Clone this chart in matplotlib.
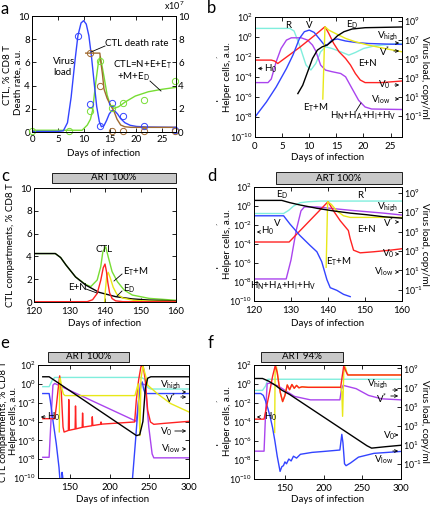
import numpy as np
import matplotlib
matplotlib.use('Agg')
import matplotlib.pyplot as plt
from matplotlib.patches import Rectangle, FancyArrowPatch
from matplotlib.lines import Line2D
from matplotlib.ticker import NullLocator
import matplotlib.transforms as mtransforms

plt.rcParams['font.family'] = ['Lato', 'DejaVu Sans']
plt.rcParams['mathtext.fontset'] = 'custom'
plt.rcParams['mathtext.rm'] = 'Lato'
plt.rcParams['mathtext.it'] = 'Lato:italic'
plt.rcParams['mathtext.bf'] = 'Lato:bold'
plt.rcParams['font.size'] = 7
plt.rcParams['xtick.direction'] = 'in'
plt.rcParams['ytick.direction'] = 'in'
plt.rcParams['xtick.major.size'] = 3
plt.rcParams['ytick.major.size'] = 3
plt.rcParams['xtick.major.width'] = 0.6
plt.rcParams['ytick.major.width'] = 0.6
plt.rcParams['axes.linewidth'] = 0.7
plt.rcParams['xtick.major.pad'] = 2.5
plt.rcParams['ytick.major.pad'] = 1.5

# ---------------- colours ----------------
BLUE = '#3344ff'
GREEN = '#77dd33'
RED = '#ff2222'
YEL = '#e8e818'
CYAN = '#80eedd'
MAG = '#aa44ee'
BROWN = '#a06a30'
BLACK = 'black'

# ---------------- data: panel a ----------------
a_blue_t = [0, 5, 6, 6.8, 7.5, 8.2, 8.8, 9.4, 9.9, 10.4, 10.9, 11.4, 11.9, 12.4, 12.9, 13.3,
            13.8, 14.3, 14.8, 15.3, 15.8, 16.4, 17.0, 17.8, 18.8, 20, 22, 27.6]
a_blue = [0.05, 0.05, 0.1, 0.8, 3.0, 6.0, 8.3, 9.4, 9.6, 9.3, 8.3, 6.5, 4.3, 2.2, 0.9, 0.45,
          0.55, 1.0, 1.55, 1.85, 1.85, 1.55, 1.15, 0.8, 0.58, 0.48, 0.43, 0.4]
a_green_t = [0, 9.6, 10.6, 11.2, 11.6, 12.2, 12.7, 13.1, 13.8, 14.4, 15.0, 15.7, 16.6, 17.9,
             19.8, 22.3, 24.9, 27.6]
a_green = [0.15, 0.15, 0.6, 1.1, 1.84, 4.2, 5.9, 6.5, 4.77, 3.19, 2.33, 2.04, 2.18, 2.6,
           3.1, 3.47, 3.68, 3.85]
a_brown_t = [10.3, 13.0, 13.2, 13.5, 13.8, 14.4, 15.0, 15.7, 16.3, 17.0, 17.8, 19.0, 27.6]
a_brown = [6.8, 6.8, 6.0, 5.0, 3.7, 2.9, 2.35, 1.8, 1.1, 0.6, 0.45, 0.4, 0.4]
a_vir_obs_t = [8.9, 11.1, 13.1, 15.4, 17.4, 21.4, 27.5]
a_vir_obs = [8.25, 2.45, 0.5, 2.5, 1.35, 0.55, 0.15]
a_ctl_obs_t = [0, 7, 11.1, 13.1, 15.4, 17.4, 21.4, 27.5]
a_ctl_obs = [0.05, 0.05, 1.8, 6.1, 2.05, 2.5, 2.8, 4.4]
a_dr_obs_t = [11.1, 13.1, 15.4, 17.4, 21.4, 27.5]
a_dr_obs = [6.8, 4.0, 0.05, 0.05, 0.05, 0.05]

# ---------------- data: panel b (log10 values) ----------------
b_cyan_t = [0, 6.4, 7.2, 8.2, 9.4, 10.3, 11.2, 12.1, 13.0, 14.2, 15.8, 17.3, 18.5, 20.0, 22.1, 24.5, 27.1]
b_cyan = [0.86, 0.86, 0.6, -0.81, -2.8, -3.3, -2.65, -1.48, -0.98, -1.15, -1.48, -1.81, -1.55,
          -1.15, -0.88, -0.75, -0.65]
b_blue_t = [0, 2.1, 3.9, 5.8, 7.0, 8.2, 9.1, 10.0, 10.9, 11.8, 12.7, 13.3, 14.2, 15.2, 16.7,
            18.5, 20.9, 24.5, 27.1]
b_blue = [-8.0, -6.5, -5.0, -3.15, -1.8, -0.14, 0.53, 0.69, 0.46, -0.14, -0.74, -0.8, -0.3,
          -0.2, -0.4, -0.54, -0.65, -0.71, -0.74]
b_red_t = [0, 3.0, 3.6, 4.2, 5.2, 8.2, 11.2, 12.9, 13.6, 14.5, 15.5, 16.7, 17.6, 18.5, 19.4,
           20.3, 23.3, 27.1]
b_red = [-2.31, -2.31, -2.4, -2.65, -2.25, -1.05, 0.25, 1.03, 0.36, -0.64, -1.48, -2.15, -2.8,
         -3.65, -4.3, -4.56, -4.56, -4.4]
b_mag_t = [0, 2.4, 3.0, 3.9, 4.8, 5.8, 6.7, 8.5, 9.7, 10.6, 11.2, 12.1, 13.0, 14.2, 15.8, 16.7,
           17.9, 19.1, 20.3, 21.5, 27.1]
b_mag = [-4.56, -4.56, -4.2, -2.48, -1.15, -0.31, -0.08, -0.08, -0.31, -0.81, -1.4, -2.81,
         -3.31, -3.47, -3.65, -3.98, -5.16, -6.33, -7.0, -7.2, -7.25]
b_black_t = [7.9, 8.8, 9.7, 10.6, 11.5, 12.4, 13.3, 14.2, 15.2, 16.4, 17.9, 20.3, 27.1]
b_black = [-5.66, -4.82, -3.49, -2.15, -1.31, -0.98, -0.81, -0.41, 0.12, 0.53, 0.8, 0.93, 1.0]
b_yel_t = [12.5, 12.9, 13.6, 14.8, 16.7, 18.5, 20.9, 24.5, 27.1]
b_yel = [-6.2, 1.03, 0.69, 0.36, -0.14, -0.48, -0.81, -1.21, -1.48]

# ---------------- data: panel c ----------------
c_black_t = [120, 126, 127.5, 129, 131.7, 134.5, 138.3, 143, 147.7, 152.4, 160]
c_black = [4.25, 4.25, 3.9, 3.25, 2.2, 1.5, 0.85, 0.47, 0.27, 0.17, 0.1]
c_green_t = [120, 126, 127.5, 129, 131.7, 134.5, 136, 137.8, 138.8, 139.4, 140.2, 140.9, 142,
             143.5, 145.4, 147.7, 152.4, 160]
c_green = [4.25, 4.25, 3.9, 3.25, 2.2, 1.55, 1.35, 1.93, 3.1, 4.41, 4.85, 3.97, 2.66, 1.78,
           1.05, 0.61, 0.32, 0.15]
c_red_t = [120, 135, 136.5, 137.8, 138.8, 139.5, 140, 140.4, 140.8, 141.3, 142, 143, 145, 160]
c_red = [0.02, 0.03, 0.2, 0.75, 1.9, 3.0, 3.33, 2.7, 1.7, 0.8, 0.3, 0.1, 0.03, 0.02]
c_yel_t = [139.9, 140.1, 140.5, 140.9, 141.5, 142.3, 143.3, 145, 148, 152, 160]
c_yel = [0.0, 1.0, 2.3, 2.6, 2.1, 1.3, 0.7, 0.35, 0.15, 0.08, 0.05]

# ---------------- data: panel d (log10) ----------------
d_black_t = [120, 127.5, 129.7, 132.4, 137, 141.5, 146, 150.5, 155, 160]
d_black = [0.59, 0.59, 0.35, 0.11, -0.24, -0.52, -0.75, -0.92, -1.13, -1.28]
d_cyan_t = [120, 128, 129.4, 130.7, 132.5, 134.7, 138, 160]
d_cyan = [-0.79, -0.79, -0.45, 0.0, 0.35, 0.45, 0.52, 0.52]
d_blue_t = [120, 128, 129.7, 132.4, 135.1, 137, 138.3, 139.7, 140.6, 142.4, 144.2, 146]
d_blue = [-1.03, -1.03, -1.89, -3.1, -4.13, -4.82, -5.86, -7.75, -8.6, -8.88, -9.3, -9.54]
d_red_t = [120, 129.5, 140, 141.5, 143.3, 145.5, 146, 146.9, 148.7, 152.3, 156.8, 160]
d_red = [-3.79, -3.79, 0.45, -0.52, -1.55, -2.58, -3.44, -4.65, -4.93, -4.82, -4.65, -4.5]
d_mag_t = [120, 128.7, 130, 131.4, 132.7, 133.6, 137, 146, 155, 160]
d_mag = [-7.68, -7.68, -5.68, -2.58, -0.51, -0.1, -0.1, -0.45, -0.75, -0.95]
d_yel_t = [139.5, 139.9, 140.9, 142.4, 144.2, 146, 151.4, 160]
d_yel = [-6.45, 0.45, 0.17, -0.52, -1.03, -1.2, -1.2, -1.2]

# ---------------- data: panel e (log10) ----------------
e_black_t = [116, 124, 234, 238, 242, 245, 248, 252, 300]
e_black = [0.75, 0.75, -5.5, -5.4, -4.0, -0.5, 0.6, 0.75, 0.75]
e_cyan_t = [116, 124, 128, 131, 240, 244, 248, 252, 300]
e_cyan = [-0.3, -0.3, 0.4, 0.68, 0.68, 0.5, -0.4, -0.55, -0.55]
e_blue_t = [116, 124, 125.4, 128.8, 133, 136.4, 138, 139.5, 140.3, 141, 142, 228, 232.4, 236.6,
            239.5, 241.2, 243, 245, 300]
e_blue = [-1.03, -1.03, -1.74, -3.88, -6.37, -8.86, -10.6, -11, -9.4, -9.8, -11, -11, -6.37,
          -1.74, -0.14, 0.2, -0.6, -1.03, -1.03]
e_mag_t = [116, 124, 127, 128.8, 131, 233.7, 238.8, 245, 249.4, 253.6, 255.7, 300]
e_mag = [-7.8, -7.8, -2.81, -0.14, 0.04, -3.98, 0.04, -0.1, -4.59, -7.44, -7.86, -7.86]
e_red_t = [116, 131, 133, 135.2, 137.3, 139.4, 141.5, 142.8, 148.2, 148.7, 149.4, 156.7, 157.2,
           157.9, 165.6, 166.1, 166.8, 177.8, 178.3, 179, 188.8, 189.3, 190, 231.6, 233.7,
           236.6, 239.5, 242.2, 245, 248, 251.5, 255.7, 268.4, 300]
e_red = [-3.7, -3.7, -2.45, -0.67, 0.85, -1.03, -4.59, -5.12, -4.95, -1.67, -4.93, -4.8, -2.35,
         -4.78, -4.62, -3.1, -4.6, -4.45, -3.5, -4.43, -4.3, -4.05, -4.28, -4.05, -1.74, 0.4,
         1.82, 1.93, 0.4, -2.81, -4.05, -4.3, -4.2, -3.98]
e_yel_t = [136.8, 137.3, 138, 140, 142, 144, 232, 236, 238.3, 239.5, 242, 245, 248, 260, 277, 300]
e_yel = [-5.1, 0.5, 0.6, -0.5, -1.1, -1.25, -1.25, 0.0, -5.5, 0.5, 1.9, 1.0, -0.14, -1.03,
         -2.1, -2.99]

# ---------------- data: panel f (log10) ----------------
f_black_t = [110, 121, 129, 137, 146, 156, 256, 262, 280, 300]
f_black = [0.58, 0.58, 0.3, -0.1, -0.65, -1.1, -6.5, -6.75, -6.6, -6.45]
f_cyan_t = [110, 121, 125, 128, 300]
f_cyan = [-0.67, -0.67, -0.2, 0.5, 0.5]
f_blue_t = [110, 118.7, 122, 125, 128, 131, 134, 137, 140, 143.7, 146, 148, 150, 152, 155, 158,
            161, 165, 170, 185, 200, 221, 223.5, 225, 227, 229, 235, 245, 265, 300]
f_blue = [-1.0, -1.0, -1.2, -1.8, -2.6, -3.5, -4.6, -6.0, -7.6, -9.2, -8.7, -8.6, -8.2, -8.4,
          -7.9, -8.1, -7.6, -7.8, -7.4, -7.2, -7.1, -6.95, -5.3, -6.2, -8.4, -8.6, -8.3, -7.7,
          -7.3, -7.1]
f_mag_t = [110, 123, 125, 127, 131, 141, 150, 162.5, 183, 221, 223, 225, 242, 258, 275, 300]
f_mag = [-7.07, -7.07, -3.0, 0.04, 0.1, -0.2, -0.67, -1.31, -1.67, -1.67, -0.6, -0.14, -0.49,
         -1.2, -1.56, -1.67]
f_red_t = [110, 123, 127, 131, 134, 137.5, 140, 142, 144, 147, 150, 153, 156, 159, 162, 165,
           168, 172, 180, 222, 224, 226, 228, 231, 300]
f_red = [-3.7, -3.7, -2.1, -0.5, 0.8, 1.95, 1.2, 0.1, -0.9, -1.85, -1.2, -0.1, -0.6, -0.05,
         -0.45, -0.15, -0.4, -0.3, -0.35, -0.35, 0.8, 1.9, 1.5, 0.95, 0.95]
f_yel_t = [136.7, 137.3, 139, 140.5, 142, 144, 147, 150, 153, 156, 159, 162, 165, 168, 172, 180,
           222, 223.5, 224.5, 226, 228, 230, 232, 300]
f_yel = [-5.1, 1.5, 1.8, 1.0, 0.0, -0.9, -1.85, -1.2, -0.1, -0.6, -0.05, -0.45, -0.15, -0.4,
         -0.3, -0.35, -0.35, -0.8, -3.4, 1.2, 1.8, 1.2, 0.95, 0.95]

# ART periods (days)
art_c = (125, 160)
art_d = (126, 160)
art_e = (122.5, 224.5)
art_f = (119, 225)

# ---------------- figure helpers ----------------
W, H = 432, 505
fig = plt.figure(figsize=(W / 100, H / 100), dpi=100)


def add_ax(l, r, t, b):
    return fig.add_axes([l / W, 1 - b / H, (r - l) / W, (b - t) / H])


def ftext(x, y, s, ha='center', va='center', **kw):
    return fig.text(x / W, 1 - y / H, s, ha=ha, va=va, **kw)


def fline(x1, y1, x2, y2):
    fig.add_artist(Line2D([x1 / W, x2 / W], [1 - y1 / H, 1 - y2 / H],
                          transform=fig.transFigure, color='k', lw=0.6))


def farrow(x1, y, x2):
    fig.add_artist(FancyArrowPatch((x1 / W, 1 - y / H), (x2 / W, 1 - y / H),
                                   transform=fig.transFigure, arrowstyle='->',
                                   mutation_scale=5, lw=0.6, color='k'))


def clipped_ylabel(x, y, s):
    t = ftext(x, y, s, rotation=90, fontsize=7)
    t.set_clip_box(mtransforms.Bbox.from_extents(216, 0, W, H))
    t.set_clip_on(True)


LW = 1.0
LOGLAB = 6.3


def logplot(ax, t, v, c):
    ax.plot(t, 10.0 ** np.asarray(v), color=c, lw=LW)


def setup_log(ax, xlim, xticks, rlim=None):
    ax.set_yscale('log')
    ax.set_ylim(1e-10, 1e2)
    ks = list(range(-10, 3, 2))
    ax.set_yticks([10.0 ** k for k in ks], [f'$10^{{{k}}}$' for k in ks])
    ax.yaxis.set_minor_locator(NullLocator())
    ax.set_xlim(*xlim)
    ax.set_xticks(xticks)
    ax.tick_params(axis='x', top=True, labelsize=7, pad=3.5)
    ax.tick_params(axis='y', labelsize=LOGLAB)
    if rlim is not None:
        axr = ax.twinx()
        axr.set_yscale('log')
        axr.set_ylim(*rlim)
        rk = list(range(-1, 10, 2))
        axr.set_yticks([10.0 ** k for k in rk], [f'$10^{{{k}}}$' for k in rk])
        axr.yaxis.set_minor_locator(NullLocator())
        axr.tick_params(labelsize=LOGLAB)
    else:
        ax.tick_params(right=True)


def art_bar(ax, span, y0, y1, label):
    tr = mtransforms.blended_transform_factory(ax.transData, ax.transAxes)
    ax.add_patch(Rectangle((span[0], y0), span[1] - span[0], y1 - y0, transform=tr,
                           facecolor='#c8c8c8', edgecolor='k', lw=0.6, clip_on=False))
    ax.text((span[0] + span[1]) / 2, (y0 + y1) / 2, label, transform=tr, ha='center',
            va='center', fontsize=7)


# ================= panel a =================
ax = add_ax(32, 176, 16, 132)
ax.plot(a_green_t, a_green, color=GREEN, lw=LW)
ax.plot(a_blue_t, a_blue, color=BLUE, lw=LW)
ax.plot(a_brown_t, a_brown, color=BROWN, lw=LW)
ax.plot(a_vir_obs_t, a_vir_obs, 'o', mfc='none', mec=BLUE, ms=4.5, mew=0.7, clip_on=False)
ax.plot(a_ctl_obs_t, a_ctl_obs, 'o', mfc='none', mec=GREEN, ms=4.5, mew=0.7, clip_on=False)
ax.plot(a_dr_obs_t, a_dr_obs, 'o', mfc='none', mec=BROWN, ms=4.5, mew=0.7, clip_on=False)
ax.set_xlim(0, 27.6)
ax.set_ylim(0, 10)
ax.set_xticks([0, 5, 10, 15, 20, 25])
ax.set_yticks([0, 2, 4, 6, 8, 10])
ax.tick_params(top=True, labelsize=7)
axr = ax.twinx()
axr.set_ylim(0, 10)
axr.set_yticks([0, 2, 4, 6, 8, 10])
axr.tick_params(labelsize=7)
ftext(174, 6, r'x10$^{7}$', fontsize=6.5)
ftext(53, 67, 'Virus\nload', ha='left', fontsize=7, linespacing=1.3)
ftext(105, 44, 'CTL death rate', ha='left', fontsize=7)
fline(105, 46, 91, 52)
ftext(113, 65, r'CTL=N+E+E$_\mathrm{T}$', ha='left', fontsize=7)
ftext(117, 77, r'+M+E$_\mathrm{D}$', ha='left', fontsize=7)
fline(150, 81, 161, 91)
ftext(7, 75, 'CTL, % CD8 T', rotation=90, fontsize=7)
ftext(18, 82, 'Death rate, a.u.', rotation=90, fontsize=7)
ftext(104, 153, 'Days of infection', fontsize=7)
ftext(5, 9, 'a', fontsize=12)

# ================= panel b =================
ax = add_ax(255, 402, 17, 137)
setup_log(ax, (0, 27.1), [0, 5, 10, 15, 20, 25], rlim=(10 ** -3.25, 10 ** 9.42))
for t, v, c in [(b_cyan_t, b_cyan, CYAN), (b_mag_t, b_mag, MAG), (b_red_t, b_red, RED),
                (b_blue_t, b_blue, BLUE), (b_yel_t, b_yel, YEL), (b_black_t, b_black, BLACK)]:
    logplot(ax, t, v, c)
ftext(288, 25, 'R')
ftext(309, 25, 'V')
ftext(352, 25, r'E$_\mathrm{D}$')
ftext(388, 36, r'V$_\mathrm{high}$')
farrow(393, 43, 402)
ftext(385, 52, r'V$^{*}$')
farrow(391, 51, 402)
ftext(367, 64, 'E+N')
ftext(384, 85, r'V$_\mathrm{0}$')
farrow(392, 85, 402)
ftext(381, 100, r'V$_\mathrm{low}$')
farrow(393, 99, 402)
ftext(316, 108, r'E$_\mathrm{T}$+M')
ftext(363, 116, r'H$_\mathrm{N}$+H$_\mathrm{A}$+H$_\mathrm{I}$+H$_\mathrm{V}$')
fline(356, 111, 361, 103)
farrow(265, 68.5, 255)
ftext(271, 69, r'H$_\mathrm{0}$')
clipped_ylabel(214.5, 77, 'CTL compartments, % CD8 T')
ftext(228, 77, 'Helper cells, a.u.', rotation=90, fontsize=7)
ftext(425, 77, 'Virus load, copy/ml', rotation=270, fontsize=7)
ftext(328, 157, 'Days of infection', fontsize=7)
ftext(212, 8, 'b', fontsize=12)

# ================= panel c =================
ax = add_ax(34, 176, 188, 302)
ax.plot(c_green_t, c_green, color=GREEN, lw=LW)
ax.plot(c_black_t, c_black, color=BLACK, lw=LW)
ax.plot(c_yel_t, c_yel, color=YEL, lw=LW)
ax.plot(c_red_t, c_red, color=RED, lw=LW)
ax.set_xlim(120, 160)
ax.set_ylim(0, 10)
ax.set_xticks([120, 130, 140, 150, 160])
ax.set_yticks([0, 2, 4, 6, 8, 10])
ax.tick_params(top=True, right=True, labelsize=7)
ax.tick_params(axis='x', pad=3.5)
art_bar(ax, art_c, 1.044, 1.132, 'ART 100%')
ftext(104, 250, 'CTL')
ftext(123, 272, r'E$_\mathrm{T}$+M', ha='left')
fline(122, 274, 114, 281)
ftext(123, 289, r'E$_\mathrm{D}$', ha='left')
fline(122, 291, 117, 296)
ftext(77, 288, 'E+N')
fline(86, 289, 97, 293)
ftext(11, 245, 'CTL compartments, % CD8 T', rotation=90, fontsize=7)
ftext(105, 323, 'Days of infection', fontsize=7)
ftext(5, 176, 'c', fontsize=12)

# ================= panel d =================
ax = add_ax(254, 402, 187, 301)
setup_log(ax, (120, 160), [120, 130, 140, 150, 160], rlim=(10 ** -2.15, 10 ** 9.6))
for t, v, c in [(d_cyan_t, d_cyan, CYAN), (d_mag_t, d_mag, MAG), (d_red_t, d_red, RED),
                (d_blue_t, d_blue, BLUE), (d_yel_t, d_yel, YEL), (d_black_t, d_black, BLACK)]:
    logplot(ax, t, v, c)
art_bar(ax, art_d, 1.026, 1.13, 'ART 100%')
ftext(282, 195, r'E$_\mathrm{D}$')
ftext(360, 195, 'R')
ftext(388, 207, r'V$_\mathrm{high}$')
ftext(389, 223, r'V$^{*}$')
farrow(394, 222, 402)
ftext(277, 223, 'V')
farrow(262, 232, 254)
ftext(268, 231, r'H$_\mathrm{0}$')
ftext(366, 230, 'E+N')
ftext(388, 254, r'V$_\mathrm{0}$')
farrow(394, 254, 402)
ftext(384, 272, r'V$_\mathrm{low}$')
farrow(394, 272, 402)
ftext(339, 262, r'E$_\mathrm{T}$+M')
ftext(283, 286, r'H$_\mathrm{N}$+H$_\mathrm{A}$+H$_\mathrm{I}$+H$_\mathrm{V}$')
clipped_ylabel(214.5, 244, 'CTL compartments, % CD8 T')
ftext(228, 244, 'Helper cells, a.u.', rotation=90, fontsize=7)
ftext(425, 244, 'Virus load, copy/ml', rotation=270, fontsize=7)
ftext(328, 324, 'Days of infection', fontsize=7)
ftext(212, 176, 'd', fontsize=12)

# ================= panel e =================
ax = add_ax(38, 189, 365, 478)
setup_log(ax, (110, 300), [150, 200, 250, 300])
for t, v, c in [(e_cyan_t, e_cyan, CYAN), (e_mag_t, e_mag, MAG), (e_blue_t, e_blue, BLUE),
                (e_red_t, e_red, RED), (e_yel_t, e_yel, YEL), (e_black_t, e_black, BLACK)]:
    logplot(ax, t, v, c)
art_bar(ax, art_e, 1.027, 1.115, 'ART 100%')
farrow(48, 417, 38)
ftext(54, 417, r'H$_\mathrm{0}$')
ftext(171, 385, r'V$_\mathrm{high}$')
farrow(181, 392, 189)
ftext(171, 399, r'V$^{*}$')
farrow(178, 397, 189)
ftext(166, 432, r'V$_\mathrm{0}$')
farrow(172, 431, 189)
ftext(171, 449, r'V$_\mathrm{low}$')
farrow(181, 449, 189)
ftext(4, 421, 'CTL compartments, % CD8 T', rotation=90, fontsize=6.8)
ftext(13, 421, 'Helper cells, a.u.', rotation=90, fontsize=6.8)
ftext(113, 499, 'Days of infection', fontsize=7)
ftext(5, 343, 'e', fontsize=12)

# ================= panel f =================
ax = add_ax(254, 401, 365, 479)
setup_log(ax, (110, 300), [150, 200, 250, 300], rlim=(10 ** -2.55, 10 ** 9.35))
for t, v, c in [(f_cyan_t, f_cyan, CYAN), (f_mag_t, f_mag, MAG), (f_blue_t, f_blue, BLUE),
                (f_yel_t, f_yel, YEL), (f_red_t, f_red, RED), (f_black_t, f_black, BLACK)]:
    logplot(ax, t, v, c)
art_bar(ax, art_f, 1.027, 1.115, 'ART 94%')
farrow(262, 417, 254)
ftext(271, 417, r'H$_\mathrm{0}$')
ftext(378, 384, r'V$_\mathrm{high}$')
farrow(390, 390, 401)
ftext(382, 399, r'V$^{*}$')
farrow(388, 396, 401)
ftext(389, 436, r'V$_\mathrm{0}$')
farrow(394, 435, 401)
ftext(384, 460, r'V$_\mathrm{low}$')
farrow(390, 451, 401)
clipped_ylabel(214.5, 421, 'CTL compartments, % CD8 T')
ftext(228, 421, 'Helper cells, a.u.', rotation=90, fontsize=7)
ftext(425, 421, 'Virus load, copy/ml', rotation=270, fontsize=7)
ftext(328, 499, 'Days of infection', fontsize=7)
ftext(211, 343, 'f', fontsize=12)

fig.savefig('out.png', dpi=100)
